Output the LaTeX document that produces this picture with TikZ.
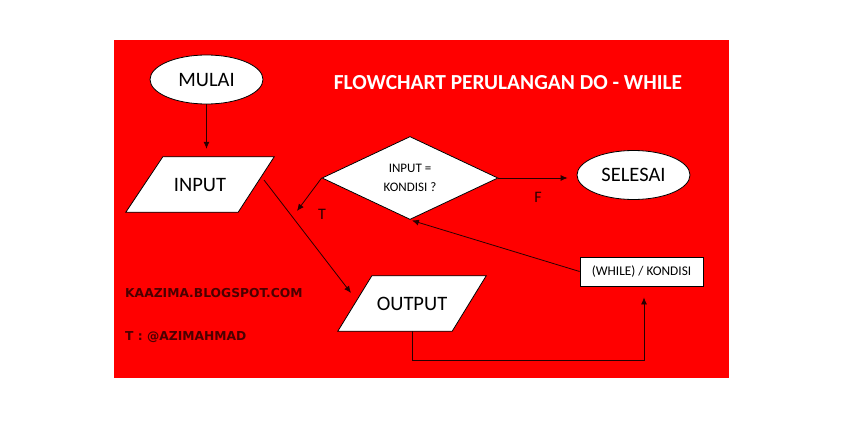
\documentclass[tikz,border=0pt]{standalone}
\usepackage{fontspec}
\setmainfont{Carlito}
\newfontfamily\footfont{DejaVu Sans}
\usetikzlibrary{shapes.geometric,arrows.meta}
\pgfdeclarelayer{background}
\pgfsetlayers{background,main}
\definecolor{bgred}{RGB}{255,0,0}
\definecolor{darktxt}{RGB}{75,0,0}
\definecolor{linecol}{RGB}{40,0,0}
\begin{document}
\begin{tikzpicture}[x=1pt,y=-1pt,
  box/.style={draw=black,fill=white,line width=0.8pt,inner sep=0pt},
  term/.style={box,ellipse,minimum width=113pt,minimum height=49pt,font=\fontsize{20.5}{24}\selectfont},
  iotext/.style={rectangle,inner sep=0pt,minimum width=148pt,minimum height=55pt,font=\fontsize{20.5}{24}\selectfont},
  decision/.style={box,diamond,aspect=2.12,minimum width=176pt,minimum height=83pt,align=center,font=\fontsize{13}{19}\selectfont},
  process/.style={box,rectangle,minimum width=123pt,minimum height=29pt,font=\fontsize{13.3}{16}\selectfont},
  arr/.style={draw=linecol,line width=0.8pt,-{Latex[length=7pt,width=6pt]}},
  lbl/.style={font=\fontsize{16}{18}\selectfont,text=linecol},
  foot/.style={anchor=west,text=darktxt,font=\footfont\bfseries\fontsize{12.3}{14}\selectfont,inner sep=0pt}
]
\path[use as bounding box] (0,0) rectangle (845,439);

\node[anchor=center,text=white,font=\bfseries\fontsize{21.4}{24}\selectfont] (title) at (508,83) {FLOWCHART PERULANGAN DO - WHILE};

\node[term] (mulai) at (206.5,79.5) {MULAI};
\node[iotext] (inp) at (200,184.5) {INPUT};
\node[decision] (dec) at (410,178) {INPUT =\\KONDISI ?};
\node[term] (sel) at (633.5,175) {SELESAI};
\node[iotext] (out) at (412,303.5) {OUTPUT};
\node[process] (wh) at (641.5,271.5) {(WHILE) / KONDISI};

\begin{pgfonlayer}{background}
\fill[white] (0,0) rectangle (845,439);
\fill[bgred] (114,40) rectangle (729,378);
\draw[box] (inp.south west) -- ([xshift=37pt]inp.north west) -- (inp.north east) -- ([xshift=-36pt]inp.south east) -- cycle;
\draw[box] (out.south west) -- ([xshift=34pt]out.north west) -- (out.north east) -- ([xshift=-34pt]out.south east) -- cycle;
\end{pgfonlayer}

\node[foot] (blog) at (125,293) {KAAZIMA.BLOGSPOT.COM};
\node[foot] (tw) at (125,337) {T : @AZIMAHMAD};

\coordinate (tT) at (297,211);
\coordinate (io1) at (264,180);
\coordinate (io2) at (351,293);
\coordinate (c1) at (644,360);

\draw[arr,shorten >=8pt] (mulai.south) -- (mulai.south |- inp.north);
\draw[arr,shorten >=9pt] (dec.east) -- (dec.east -| sel.west);
\draw[arr] (dec.west) -- (tT);
\draw[arr] (io1) -- (io2);
\draw[arr,shorten >=11pt] (out.south) |- (c1) -- (c1 |- wh.south);
\draw[arr,shorten >=2pt] (wh.west) -- (dec.south);

\node[lbl] (lT) at (322,214) {T};
\node[lbl] (lF) at (538,197) {F};
\end{tikzpicture}
\end{document}
